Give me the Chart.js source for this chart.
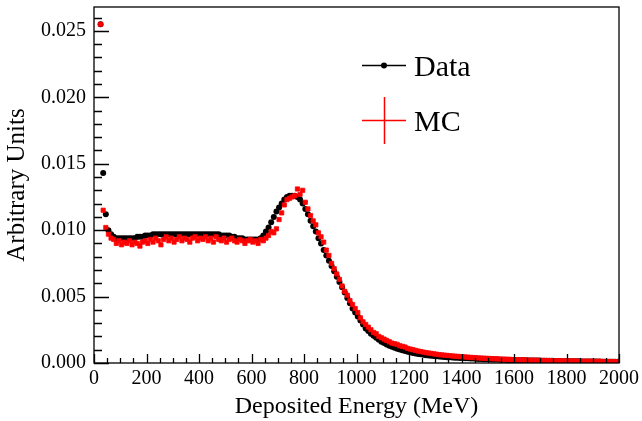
<!DOCTYPE html>
<html>
<head>
<meta charset="utf-8">
<script src="https://cdn.jsdelivr.net/npm/chart.js@4.4.0/dist/chart.umd.min.js"></script>
<style>
  html, body { margin: 0; padding: 0; background: #fff; }
  canvas { display: block; }
</style>
</head>
<body>
<canvas id="chart" width="642" height="421"></canvas>
<script>
// 10 MeV bins, first filled bin centred at 25 MeV
const firstBin = 25;
const binWidth = 10;

const dataVals = [
  0.0255, 0.0143, 0.0112, 0.0100, 0.0097, 0.0095, 0.0094, 0.0094,
  0.0094, 0.0094, 0.0094, 0.0094, 0.0094, 0.0094, 0.0095, 0.0095, 0.0095, 0.0096,
  0.0096, 0.0096, 0.0097, 0.0097, 0.0097, 0.0097, 0.0097, 0.0097, 0.0097, 0.0097,
  0.0097, 0.0097, 0.0097, 0.0097, 0.0097, 0.0097, 0.0097, 0.0097, 0.0097, 0.0097,
  0.0097, 0.0097, 0.0097, 0.0097, 0.0097, 0.0097, 0.0097, 0.0097, 0.0096, 0.0096,
  0.0096, 0.0096, 0.0095, 0.0095, 0.0094, 0.0094, 0.0094, 0.0093, 0.0093, 0.0093,
  0.0093, 0.0093, 0.0093, 0.0094, 0.0096, 0.0099, 0.0102, 0.0106, 0.0110, 0.0114,
  0.0117, 0.0120, 0.0123, 0.0125, 0.0126, 0.0126, 0.0126, 0.0125, 0.0123, 0.0120,
  0.0116, 0.0112, 0.0107, 0.0103, 0.0099, 0.0094, 0.0090, 0.0085, 0.0081, 0.0077,
  0.0073, 0.0069, 0.0065, 0.0061, 0.0057, 0.0053, 0.0049, 0.0045, 0.0041, 0.0038,
  0.0035, 0.0032, 0.0029, 0.0026, 0.0024, 0.0022, 0.00205, 0.0019, 0.00175, 0.0016,
  0.0015, 0.0014, 0.0013, 0.00122, 0.00115, 0.00108, 0.00102, 0.00096, 0.0009, 0.00085,
  0.0008, 0.00076, 0.00072, 0.00068, 0.00065, 0.00062, 0.00059, 0.00057, 0.00055, 0.00053,
  0.00051, 0.00049, 0.00047, 0.00046, 0.00044, 0.00043, 0.00041, 0.0004, 0.00039, 0.00038,
  0.00037, 0.00036, 0.00035, 0.00034, 0.00033, 0.00032, 0.00031, 0.0003, 0.00029, 0.00029,
  0.00028, 0.00027, 0.00026, 0.00026, 0.00025, 0.00024, 0.00024, 0.00023, 0.00023, 0.00022,
  0.00022, 0.00021, 0.00021, 0.0002, 0.0002, 0.00019, 0.00019, 0.00018, 0.00018, 0.00018,
  0.00017, 0.00017, 0.00016, 0.00016, 0.00016, 0.00015, 0.00015, 0.00015, 0.00014, 0.00014,
  0.00014, 0.00013, 0.00013, 0.00013, 0.00013, 0.00012, 0.00012, 0.00012, 0.00012, 0.00011,
  0.00011, 0.00011, 0.00011, 0.0001, 0.0001, 0.0001, 0.0001, 0.0001, 0.00009, 0.00009
];

const mcVals = [
  0.0255, 0.0115, 0.0102, 0.0097, 0.0094, 0.0093, 0.0090, 0.0092,
  0.0089, 0.0091, 0.0090, 0.0092, 0.0089, 0.0091, 0.0090, 0.0088, 0.0091, 0.0092,
  0.0090, 0.0093, 0.0091, 0.0094, 0.0092, 0.0089, 0.0093, 0.0095, 0.0092, 0.0094,
  0.0091, 0.0093, 0.0095, 0.0092, 0.0094, 0.0093, 0.0091, 0.0094, 0.0095, 0.0092,
  0.0094, 0.0093, 0.0095, 0.0092, 0.0094, 0.0091, 0.0095, 0.0093, 0.0092, 0.0094,
  0.0091, 0.0093, 0.0094, 0.0092, 0.0091, 0.0093, 0.0092, 0.0090, 0.0092, 0.0093,
  0.0091, 0.0092, 0.0090, 0.0093, 0.0092, 0.0094, 0.0096, 0.0099, 0.0098, 0.0101,
  0.0108, 0.0113, 0.0119, 0.0123, 0.0124, 0.0125, 0.0126, 0.0131, 0.0127, 0.0130,
  0.0121, 0.0116, 0.0111, 0.0107, 0.0104, 0.0098, 0.0095, 0.0091, 0.0085, 0.0081,
  0.0075, 0.0071, 0.0067, 0.0063, 0.0058, 0.0054, 0.0051, 0.0047, 0.0044, 0.0041,
  0.0038, 0.0034, 0.0031, 0.0029, 0.0027, 0.0025, 0.0023, 0.0022, 0.0020, 0.0019,
  0.0018, 0.0017, 0.0016, 0.0015, 0.00145, 0.0014, 0.0013, 0.00125, 0.0012, 0.0011,
  0.00105, 0.001, 0.00095, 0.0009, 0.00086, 0.00082, 0.00078, 0.00075, 0.00072, 0.00069,
  0.00066, 0.00063, 0.00061, 0.00059, 0.00057, 0.00055, 0.00053, 0.00051, 0.0005, 0.00048,
  0.00047, 0.00045, 0.00044, 0.00042, 0.00041, 0.0004, 0.00038, 0.00037, 0.00036, 0.00035,
  0.00034, 0.00033, 0.00032, 0.00031, 0.0003, 0.00029, 0.00028, 0.00028, 0.00027, 0.00026,
  0.00025, 0.00024, 0.00024, 0.00023, 0.00022, 0.00022, 0.00021, 0.00021, 0.0002, 0.0002,
  0.00019, 0.00019, 0.00018, 0.00018, 0.00018, 0.00017, 0.00017, 0.00016, 0.00016, 0.00016,
  0.00015, 0.00015, 0.00015, 0.00014, 0.00014, 0.00014, 0.00013, 0.00013, 0.00013, 0.00013,
  0.00012, 0.00012, 0.00012, 0.00012, 0.00011, 0.00011, 0.00011, 0.00011, 0.0001, 0.0001
];

const xTicks = [0, 200, 400, 600, 800, 1000, 1200, 1400, 1600, 1800, 2000];
const yTicks = [0, 0.005, 0.010, 0.015, 0.020, 0.025];

const toPoints = (vals) => vals.map((v, i) => ({ x: firstBin + binWidth * i, y: v }));

const serif = "'Liberation Serif', 'DejaVu Serif', serif";

// ROOT-like frame with inward ticks, plus the legend box contents
const rootFrame = {
  id: 'rootFrame',
  afterDraw(chart) {
    const c = chart.ctx;
    const a = chart.chartArea;
    const xs = chart.scales.x, ys = chart.scales.y;
    c.save();
    c.strokeStyle = '#000';
    c.lineWidth = 1.3;
    c.strokeRect(a.left, a.top, a.right - a.left, a.bottom - a.top);
    c.beginPath();
    for (let i = 0; i <= 26; i++) {
      const py = Math.round(ys.getPixelForValue(i / 1000)) + 0.5;
      const len = i % 5 === 0 ? 15 : 8;
      c.moveTo(a.left, py); c.lineTo(a.left + len, py);
    }
    for (let e = 0; e <= 2000; e += 50) {
      const px = Math.round(xs.getPixelForValue(e)) + 0.5;
      const len = e % 200 === 0 ? 9 : 5;
      c.moveTo(px, a.bottom); c.lineTo(px, a.bottom - len);
    }
    c.stroke();

    // legend
    c.lineWidth = 1.5;
    c.strokeStyle = '#000';
    c.beginPath(); c.moveTo(362, 65.5); c.lineTo(406, 65.5); c.stroke();
    c.fillStyle = '#000';
    c.beginPath(); c.arc(384, 65.5, 3, 0, Math.PI * 2); c.fill();
    c.strokeStyle = '#ff0000';
    c.beginPath();
    c.moveTo(362, 120.5); c.lineTo(406, 120.5);
    c.moveTo(384.5, 97); c.lineTo(384.5, 144);
    c.stroke();
    c.fillStyle = '#000';
    c.font = '30px ' + serif;
    c.textBaseline = 'alphabetic';
    c.fillText('Data', 414, 76);
    c.fillText('MC', 414, 131);
    c.restore();
  }
};

new Chart(document.getElementById('chart'), {
  type: 'scatter',
  data: {
    datasets: [{
      label: 'Data',
      data: toPoints(dataVals),
      order: 2,
      pointRadius: 3,
      pointBackgroundColor: '#000',
      pointBorderWidth: 0,
      showLine: false
    }, {
      label: 'MC',
      data: toPoints(mcVals),
      order: 1,
      pointStyle: 'rect',
      pointRadius: 3,
      pointBackgroundColor: '#ff0000',
      pointBorderColor: '#ff0000',
      pointBorderWidth: 0.8,
      showLine: false
    }]
  },
  options: {
    responsive: false,
    animation: false,
    events: [],
    layout: { padding: { left: 0, right: 23, top: 7, bottom: 0 } },
    plugins: {
      legend: { display: false },
      tooltip: { enabled: false }
    },
    scales: {
      x: {
        type: 'linear',
        min: 0,
        max: 2000,
        afterBuildTicks: (s) => { s.ticks = xTicks.map(v => ({ value: v })); },
        afterFit: (s) => { s.height = 58; s.paddingLeft = 0; s.paddingRight = 0; },
        grid: { display: false, drawTicks: false },
        border: { display: false },
        ticks: {
          color: '#000',
          padding: 4,
          maxRotation: 0,
          font: { family: serif, size: 20 },
          callback: (v) => String(v)
        },
        title: {
          display: true,
          text: 'Deposited Energy (MeV)',
          color: '#000',
          font: { family: serif, size: 24 },
          padding: { top: 0, bottom: 0 }
        }
      },
      y: {
        type: 'linear',
        min: 0,
        max: 0.0268,
        afterBuildTicks: (s) => { s.ticks = yTicks.map(v => ({ value: v })); },
        afterFit: (s) => { s.width = 94; s.paddingTop = 0; s.paddingBottom = 0; },
        grid: { display: false, drawTicks: false },
        border: { display: false },
        ticks: {
          color: '#000',
          padding: 8,
          font: { family: serif, size: 20 },
          callback: (v) => v.toFixed(3)
        },
        title: {
          display: true,
          text: 'Arbitrary Units',
          color: '#000',
          font: { family: serif, size: 25 },
          padding: { top: 2, bottom: 0 }
        }
      }
    }
  },
  plugins: [rootFrame]
});
</script>
</body>
</html>
